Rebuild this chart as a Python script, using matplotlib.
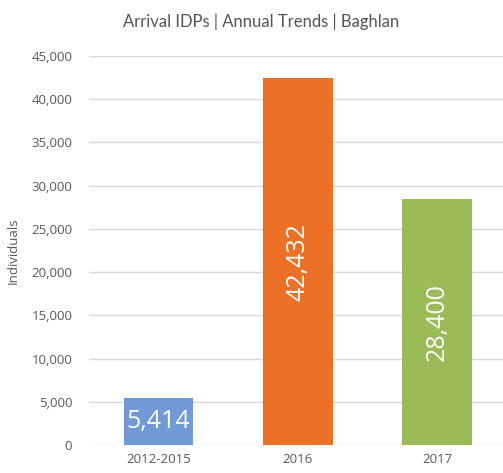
import matplotlib
matplotlib.use("Agg")
import matplotlib.pyplot as plt

categories = ["2012-2015", "2016", "2017"]
values = [5414, 42432, 28400]
colors = ["#6F9AD5", "#EC7127", "#9BBB59"]
label_rot = [0, 90, 90]

plt.rcParams['font.family'] = ['Open Sans', 'DejaVu Sans']

fig = plt.figure(figsize=(5.03, 4.73), dpi=100)
ax = fig.add_axes([0.177, 0.059, 0.83, 0.823])

x = range(len(categories))
bars = ax.bar(x, values, width=0.5, color=colors, zorder=3)

for b, v, r in zip(bars, values, label_rot):
    ax.text(b.get_x() + b.get_width() / 2, v / 2, f"{v:,}", color="white",
            fontsize=18, ha="center", va="center", rotation=r, zorder=4)

ax.set_ylim(0, 45000)
ax.set_yticks(range(0, 45001, 5000))
ax.set_yticklabels([f"{t:,}" for t in range(0, 45001, 5000)])
ax.set_xlim(-0.5, 2.5)
ax.set_xticks(list(x))
ax.set_xticklabels(categories)
ax.yaxis.grid(True, color="#D9D9D9", linewidth=1, zorder=0)
for s in ax.spines.values():
    s.set_visible(False)
ax.tick_params(length=0, colors="#595959", labelsize=9.5)
ax.tick_params(axis="y", pad=12)
ax.tick_params(axis="x", pad=6)
ax.set_ylabel("Individuals", color="#595959", fontsize=9.5, labelpad=8)
fig.text(0.52, 0.955, "Arrival IDPs | Annual Trends | Baghlan", ha="center", va="center",
         fontsize=12, color="#555555", family=["Lato", "DejaVu Sans"])

fig.savefig("out.png", dpi=100)
